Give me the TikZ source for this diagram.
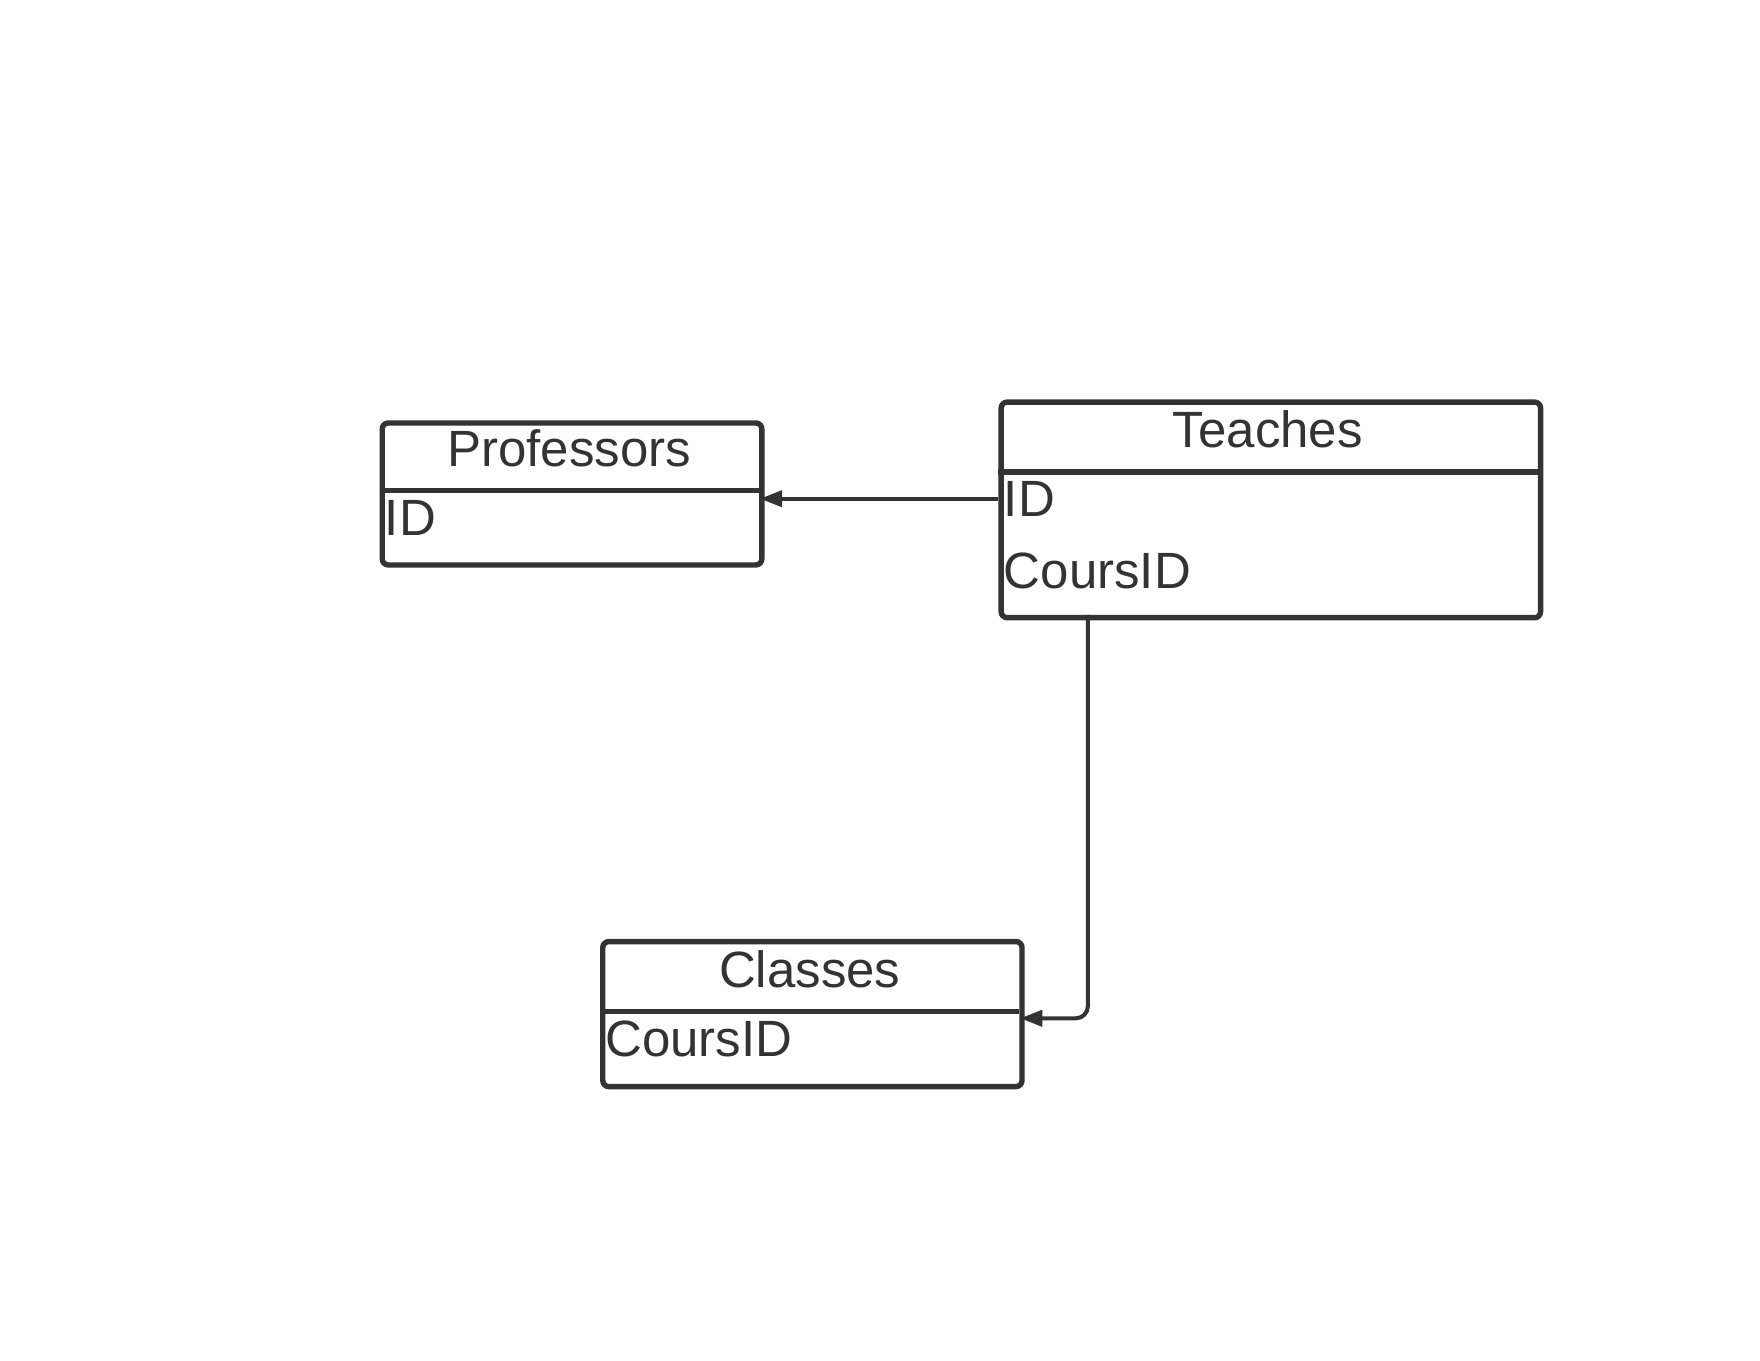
\documentclass[tikz,border=0pt]{standalone}
\usepackage{fontspec}
\setmainfont{Liberation Sans}
\usetikzlibrary{arrows.meta}
\definecolor{ink}{HTML}{333333}
\begin{document}
\begin{tikzpicture}[x=0.5pt,y=-0.5pt,
  entity/.style={draw=ink,line width=2.7pt,rounded corners=3pt,anchor=north west,inner sep=0pt},
  title/.style={anchor=base,inner sep=0pt,text=ink,font=\fontsize{25.5pt}{30pt}\selectfont},
  field/.style={anchor=base west,inner sep=0pt,text=ink,font=\fontsize{25.5pt}{30pt}\selectfont},
  sep/.style={draw=ink,line width=2.7pt},
  link/.style={draw=ink,line width=2pt,-{Triangle[length=11pt,width=8pt]},rounded corners=6pt}]
\useasboundingbox (0,0) rectangle (1760,1360);
\begin{scope}[scale=0.9935]
% Professors
\node[entity,minimum width=189.8pt,minimum height=71pt] (prof) at (382,423) {};
\draw[sep] (382,494) -- (764,494);
\node[title] (profT) at (573,470) {Professors};
\node[field] (profID) at (387,539) {ID};
% Teaches
\node[entity,minimum width=269.7pt,minimum height=107.8pt] (teach) at (1005,402) {};
\draw[sep] (1005,475) -- (1548,475);
\node[title] (teachT) at (1276,450) {Teaches};
\node[field] (teachID) at (1010,520) {ID};
\node[field] (teachC) at (1010,592) {CoursID};
% Classes
\node[entity,minimum width=209.6pt,minimum height=72.5pt] (cls) at (604,945) {};
\draw[sep] (604,1018) -- (1026,1018);
\node[title] (clsT) at (815,994) {Classes};
\node[field] (clsC) at (609,1063) {CoursID};
% connectors
\coordinate (a1) at (1005,502);
\coordinate (a2) at (765,502);
\draw[link] (a1) -- (a2);
\coordinate (b1) at (1095,619);
\coordinate (b2) at (1095,1025);
\coordinate (b3) at (1027,1025);
\draw[link] (b1) -- (b2) -- (b3);
\end{scope}
\end{tikzpicture}
\end{document}
